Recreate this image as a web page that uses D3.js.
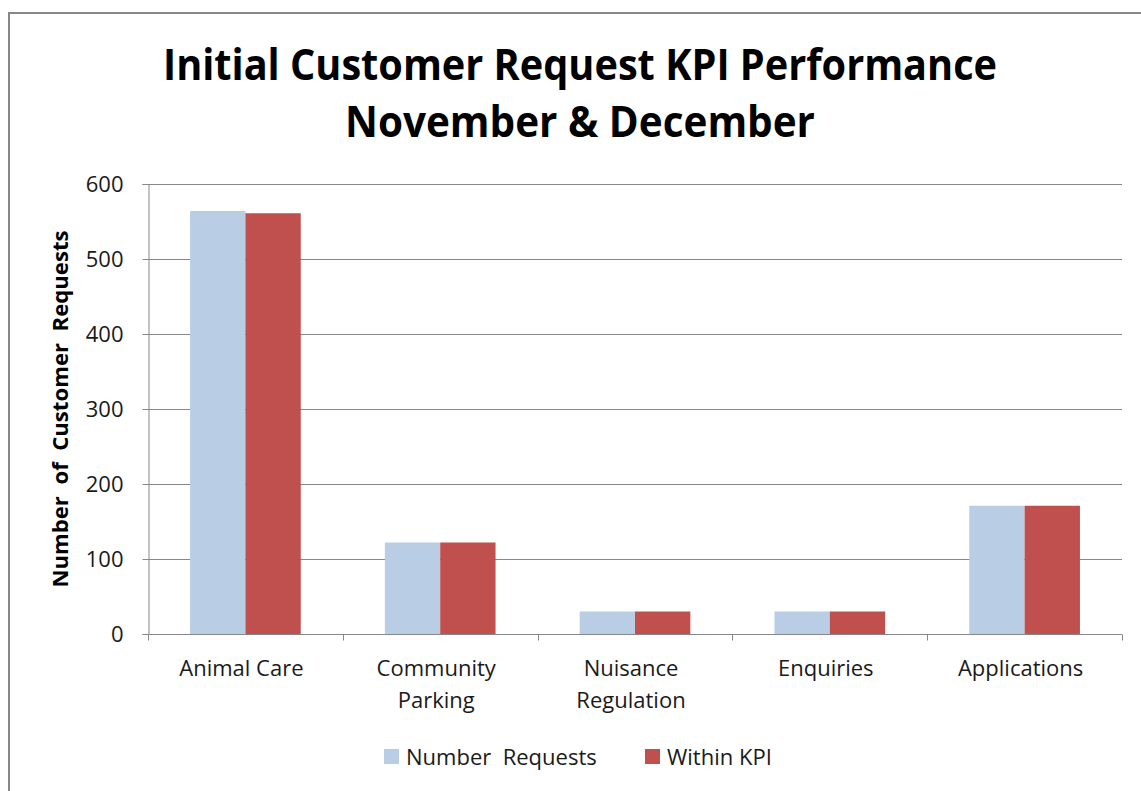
<!DOCTYPE html>
<html>
<head>
<meta charset="utf-8">
<script src="https://cdn.jsdelivr.net/npm/d3@7"></script>
<style>
	body { margin: 0; background: #fff; }
	svg { display: block; font-family: "Open Sans", "Noto Sans", sans-serif; }
	text { white-space: pre; }
</style>
</head>
<body>
<div id="chart"></div>
<script>
// chart data
var categories = [["Animal Care"], ["Community", "Parking"], ["Nuisance", "Regulation"], ["Enquiries"], ["Applications"]];
var seriesNames = ["Number  Requests", "Within KPI"];
var seriesColors = ["#B9CDE5", "#C0504D"];
var numberRequests = [564, 122, 30, 30, 171];
var withinKPI = [561, 122, 30, 30, 171];
var yTicks = [0, 100, 200, 300, 400, 500, 600];

function makeChart() {
	var width = 1141, height = 791;
	var margin = {left: 148, right: 19, top: 184, bottom: 157};

	var svg = d3.select("#chart").append("svg")
		.attr("width", width)
		.attr("height", height);

	// outer frame of the chart
	svg.append("rect")
		.attr("x", 9).attr("y", 13)
		.attr("width", 1160).attr("height", 820)
		.attr("fill", "none")
		.attr("stroke", "#878787")
		.attr("stroke-width", 2);

	// title
	var title = svg.append("text")
		.attr("text-anchor", "middle")
		.attr("font-weight", "bold")
		.attr("font-size", 43)
		.attr("fill", "#000");
	title.append("tspan").attr("x", 580).attr("y", 80)
		.attr("textLength", 834).attr("lengthAdjust", "spacingAndGlyphs")
		.text("Initial Customer Request KPI Performance");
	title.append("tspan").attr("x", 580).attr("y", 137)
		.attr("textLength", 470).attr("lengthAdjust", "spacingAndGlyphs")
		.text("November & December");

	var x = d3.scaleBand()
		.domain(d3.range(categories.length))
		.range([margin.left, width - margin.right])
		.paddingInner(0).paddingOuter(0);
	var x1 = d3.scaleBand()
		.domain(d3.range(seriesNames.length))
		.range([0, x.bandwidth()])
		.paddingOuter(0.76).paddingInner(0);
	var y = d3.scaleLinear()
		.domain([0, 600])
		.range([height - margin.bottom, margin.top]);

	// gridlines
	svg.append("g").selectAll("line.grid")
		.data(yTicks.slice(1)).enter()
		.append("line").attr("class", "grid")
		.attr("x1", margin.left).attr("x2", width - margin.right)
		.attr("y1", d => Math.round(y(d)) + 0.5).attr("y2", d => Math.round(y(d)) + 0.5)
		.attr("stroke", "#878787");

	// bars
	var series = [numberRequests, withinKPI];
	series.forEach((values, s) => {
		svg.append("g").selectAll("rect")
			.data(values).enter()
			.append("rect")
			.attr("x", (d, i) => x(i) + x1(s))
			.attr("width", x1.bandwidth())
			.attr("y", d => y(d))
			.attr("height", d => y(0) - y(d))
			.attr("fill", seriesColors[s]);
	});

	// y axis
	var yAxis = svg.append("g")
		.attr("transform", "translate(" + (margin.left + 0.5) + ",0)")
		.call(d3.axisLeft(y).tickValues(yTicks).tickSize(6).tickPadding(19));
	yAxis.select(".domain").attr("stroke", "#878787");
	yAxis.selectAll(".tick line").attr("stroke", "#878787");
	yAxis.selectAll(".tick text")
		.attr("font-family", "'Open Sans', sans-serif")
		.attr("font-size", 22).attr("fill", "#1a1a1a");

	// x axis
	var xAxis = svg.append("g")
		.attr("transform", "translate(0," + (Math.round(y(0)) + 0.5) + ")");
	xAxis.append("line")
		.attr("x1", margin.left).attr("x2", width - margin.right)
		.attr("stroke", "#878787");
	xAxis.selectAll("line.tick")
		.data(d3.range(categories.length + 1)).enter()
		.append("line").attr("class", "tick")
		.attr("x1", d => Math.round(margin.left + d * x.bandwidth()) + 0.5)
		.attr("x2", d => Math.round(margin.left + d * x.bandwidth()) + 0.5)
		.attr("y1", 0).attr("y2", 6)
		.attr("stroke", "#878787");
	var labels = xAxis.selectAll("text.cat")
		.data(categories).enter()
		.append("text").attr("class", "cat")
		.attr("text-anchor", "middle")
		.attr("font-size", 22).attr("fill", "#1a1a1a");
	labels.selectAll("tspan")
		.data((d, i) => d.map(t => ({t: t, i: i}))).enter()
		.append("tspan")
		.attr("x", d => x(d.i) + x.bandwidth() / 2 - 4)
		.attr("y", (d, j) => 41 + j * 32)
		.text(d => d.t);

	// y axis title
	svg.append("text")
		.attr("transform", "translate(68," + ((y(0) + y(600)) / 2) + ")rotate(-90)")
		.attr("text-anchor", "middle")
		.attr("font-weight", "bold")
		.attr("font-size", 21)
		.attr("fill", "#000")
		.attr("textLength", 357).attr("lengthAdjust", "spacingAndGlyphs")
		.text("Number  of  Customer  Requests");

	// legend
	var legendX = [384, 645];
	var legend = svg.append("g").selectAll("g")
		.data(seriesNames).enter()
		.append("g")
		.attr("transform", (d, i) => "translate(" + legendX[i] + ",749)");
	legend.append("rect")
		.attr("width", 15).attr("height", 15)
		.attr("fill", (d, i) => seriesColors[i]);
	legend.append("text")
		.attr("x", 22).attr("y", 16)
		.attr("font-size", 22).attr("fill", "#1a1a1a")
		.text(d => d);
}

window.addEventListener('DOMContentLoaded', makeChart)
</script>
</body>
</html>
